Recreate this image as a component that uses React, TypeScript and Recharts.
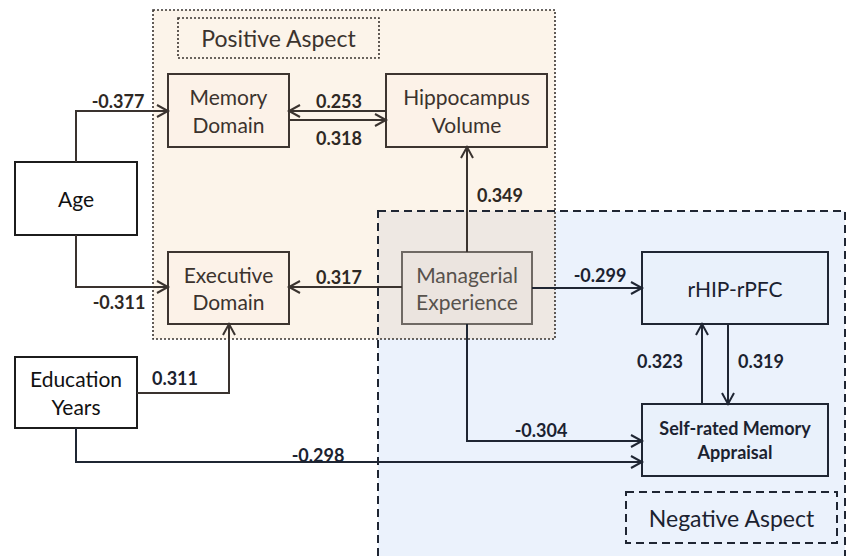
import React from 'react';
import { ScatterChart, Scatter, XAxis, YAxis, ReferenceArea } from 'recharts';

const W = 846;
const H = 556;
const FONT = 'Lato, "Open Sans", sans-serif';

// the two shaded aspects (diagram units)
const regionNames = ['Positive Aspect', 'Negative Aspect'];
const regionX1 = [153, 378];
const regionX2 = [555, 845];
const regionY1 = [10, 211];
const regionY2 = [339, 560];
// small tag boxes carrying the region names
const tagX1 = [178, 626];
const tagX2 = [379, 837];
const tagY1 = [18, 492];
const tagY2 = [58, 543];

// nodes of the path model
const nodeLabels = [
  ['Age'],
  ['Memory', 'Domain'],
  ['Executive', 'Domain'],
  ['Education', 'Years'],
  ['Hippocampus', 'Volume'],
  ['Managerial', 'Experience'],
  ['rHIP-rPFC'],
  ['Self-rated Memory', 'Appraisal'],
];
const nodeGroup = ['input', 'positive', 'positive', 'input', 'positive', 'manager', 'negative', 'appraisal'];
const nodeX1 = [15, 168, 168, 15, 386, 402, 642, 642];
const nodeX2 = [137, 289, 289, 137, 547, 532, 828, 828];
const nodeY1 = [162, 74, 252, 357, 74, 252, 252, 404];
const nodeY2 = [235, 147, 324, 428, 147, 324, 324, 476];

// path coefficients, their routes and label anchors
const pathCoefs = [-0.377, -0.311, 0.253, 0.318, 0.349, 0.317, -0.299, -0.304, 0.311, -0.298, 0.323, 0.319];
const pathRoutes: number[][][] = [
  [[76, 162], [76, 111], [168, 111]],
  [[76, 235], [76, 287], [168, 287]],
  [[386, 111], [289, 111]],
  [[289, 120], [386, 120]],
  [[467, 252], [467, 147]],
  [[402, 287], [289, 287]],
  [[532, 288], [642, 288]],
  [[467, 324], [467, 441], [642, 441]],
  [[137, 393], [229, 393], [229, 324]],
  [[76, 428], [76, 462], [642, 462]],
  [[702, 404], [702, 324]],
  [[728, 324], [728, 404]],
];
const labelX = [118, 119, 339, 339, 500, 339, 600, 541, 175, 318, 660, 761];
const labelY = [101, 302, 101, 138, 195, 277, 275, 430, 378, 455, 361, 361];

const groupStyle: Record<string, any> = {
  input: { fill: '#ffffff', stroke: '#1c1c1c', color: '#111111', size: 21, weight: 400 },
  positive: { fill: '#fcf2e8', stroke: '#3d3530', color: '#3b332e', size: 21, weight: 400 },
  manager: { fill: '#ebe4df', stroke: '#6f6964', color: '#57524d', size: 21, weight: 400 },
  negative: { fill: '#e9f1fb', stroke: '#1f2633', color: '#1b2230', size: 21, weight: 400 },
  appraisal: { fill: '#e9f1fb', stroke: '#1f2633', color: '#1b2230', size: 18, weight: 700 },
};
const edgeColor = (i: number) => (i === 6 || i === 7 || i === 9 || i >= 10 ? '#1f2633' : '#3a332f');

const TextShape = (props: any) => {
  const { cx, cy, payload } = props;
  const lines: string[] = payload.lines;
  const lh = payload.size * 1.3;
  const start = cy - ((lines.length - 1) * lh) / 2;
  return (
    <g>
      {lines.map((l, k) => (
        <text
          key={k}
          x={cx}
          y={start + k * lh}
          textAnchor="middle"
          dominantBaseline="central"
          fontFamily={FONT}
          fontSize={payload.size}
          fontWeight={payload.weight}
          fill={payload.color}
        >
          {l}
        </text>
      ))}
    </g>
  );
};

const ArrowHead = (props: any) => {
  const { cx, cy, payload } = props;
  const { dx, dy, color } = payload;
  const len = 11;
  const half = 6;
  const bx = cx - dx * len;
  const by = cy - dy * len;
  const px = -dy * half;
  const py = dx * half;
  return (
    <path
      d={`M${bx + px},${by + py}L${cx},${cy}L${bx - px},${by - py}`}
      fill="none"
      stroke={color}
      strokeWidth={2}
      strokeLinejoin="miter"
    />
  );
};

const Empty = () => <g />;

export default function App() {
  const nodeTexts = nodeLabels.map((lines, i) => {
    const st = groupStyle[nodeGroup[i]];
    return {
      x: (nodeX1[i] + nodeX2[i]) / 2,
      y: (nodeY1[i] + nodeY2[i]) / 2,
      lines,
      size: st.size,
      weight: st.weight,
      color: st.color,
    };
  });
  const tagTexts = regionNames.map((name, i) => ({
    x: (tagX1[i] + tagX2[i]) / 2,
    y: (tagY1[i] + tagY2[i]) / 2,
    lines: [name],
    size: 23,
    weight: 400,
    color: i === 0 ? '#3b332e' : '#1b2230',
  }));
  const coefTexts = pathCoefs.map((c, i) => ({
    x: labelX[i],
    y: labelY[i],
    lines: [c.toFixed(3)],
    size: 18,
    weight: 700,
    color: i >= 6 ? '#1b2230' : '#2e2824',
  }));
  const heads = pathRoutes.map((r, i) => {
    const a = r[r.length - 2];
    const b = r[r.length - 1];
    return {
      x: b[0],
      y: b[1],
      dx: Math.sign(b[0] - a[0]),
      dy: Math.sign(b[1] - a[1]),
      color: edgeColor(i),
    };
  });
  const ovX1 = Math.max(regionX1[0], regionX1[1]);
  const ovX2 = Math.min(regionX2[0], regionX2[1]);
  const ovY1 = Math.max(regionY1[0], regionY1[1]);
  const ovY2 = Math.min(regionY2[0], regionY2[1]);

  return (
    <div style={{ position: 'absolute', left: 0, top: 0, width: W, height: H, background: '#ffffff', fontFamily: FONT }}>
      <ScatterChart width={W} height={H} margin={{ top: 0, right: 0, bottom: 0, left: 0 }}>
        <XAxis type="number" dataKey="x" domain={[0, W]} hide allowDataOverflow />
        <YAxis type="number" dataKey="y" domain={[0, H]} reversed hide allowDataOverflow />

        {/* region fills */}
        <ReferenceArea x1={regionX1[0]} x2={regionX2[0]} y1={regionY1[0]} y2={regionY2[0]} fill="#fcf4ea" fillOpacity={1} stroke="none" ifOverflow="visible" />
        <ReferenceArea x1={regionX1[1]} x2={regionX2[1]} y1={regionY1[1]} y2={regionY2[1]} fill="#ebf2fc" fillOpacity={1} stroke="none" ifOverflow="visible" />
        <ReferenceArea x1={ovX1} x2={ovX2} y1={ovY1} y2={ovY2} fill="#eee8e3" fillOpacity={1} stroke="none" ifOverflow="visible" />

        {/* region borders */}
        <ReferenceArea x1={regionX1[0]} x2={regionX2[0]} y1={regionY1[0]} y2={regionY2[0]} fill="none" stroke="#3a3430" strokeWidth={1.6} strokeDasharray="2 2" ifOverflow="visible" />
        <ReferenceArea x1={regionX1[1]} x2={regionX2[1]} y1={regionY1[1]} y2={regionY2[1]} fill="none" stroke="#1f2633" strokeWidth={2} strokeDasharray="8 5" ifOverflow="visible" />
        <ReferenceArea x1={tagX1[0]} x2={tagX2[0]} y1={tagY1[0]} y2={tagY2[0]} fill="none" stroke="#3a3430" strokeWidth={1.6} strokeDasharray="2 2" ifOverflow="visible" />
        <ReferenceArea x1={tagX1[1]} x2={tagX2[1]} y1={tagY1[1]} y2={tagY2[1]} fill="none" stroke="#1f2633" strokeWidth={2} strokeDasharray="8 5" ifOverflow="visible" />

        {/* node boxes */}
        {nodeLabels.map((_, i) => {
          const st = groupStyle[nodeGroup[i]];
          return (
            <ReferenceArea
              key={`node-${i}`}
              x1={nodeX1[i]}
              x2={nodeX2[i]}
              y1={nodeY1[i]}
              y2={nodeY2[i]}
              fill={st.fill}
              fillOpacity={1}
              stroke={st.stroke}
              strokeWidth={2}
              ifOverflow="visible"
            />
          );
        })}

        {/* paths */}
        {pathRoutes.map((r, i) => (
          <Scatter
            key={`path-${i}`}
            data={r.map(([x, y]) => ({ x, y }))}
            line={{ stroke: edgeColor(i), strokeWidth: 2 }}
            lineType="joint"
            shape={Empty}
            isAnimationActive={false}
          />
        ))}
        <Scatter data={heads} shape={ArrowHead} isAnimationActive={false} />
        <Scatter data={nodeTexts} shape={TextShape} isAnimationActive={false} />
        <Scatter data={tagTexts} shape={TextShape} isAnimationActive={false} />
        <Scatter data={coefTexts} shape={TextShape} isAnimationActive={false} />
      </ScatterChart>
    </div>
  );
}
